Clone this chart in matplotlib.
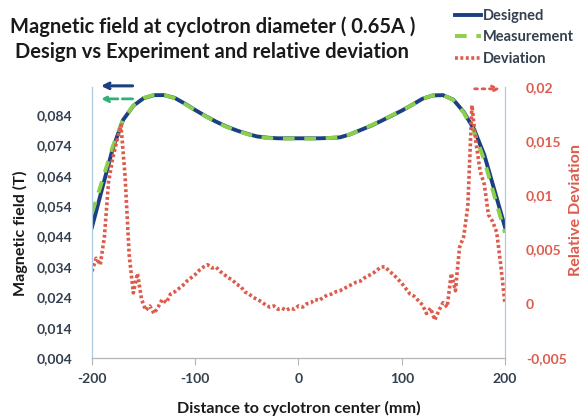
import numpy as np
import matplotlib
matplotlib.use("Agg")
import matplotlib.pyplot as plt

plt.rcParams['font.family'] = ['Lato', 'DejaVu Sans']

# field curves, sampled every 10 mm
pos_field = np.arange(-200, 201, 10)
designed = [0.0471, 0.0600, 0.0728, 0.0823, 0.0870, 0.0895, 0.0905, 0.0905, 0.0896, 0.0877,
            0.0856, 0.0836, 0.0818, 0.0802, 0.0789, 0.0778, 0.0769, 0.0765, 0.0763, 0.0763,
            0.0763, 0.0763, 0.0763, 0.0764, 0.0766, 0.0776, 0.0790, 0.0804, 0.0820, 0.0837,
            0.0854, 0.0873, 0.0893, 0.0904, 0.0905, 0.0890, 0.0850, 0.0793, 0.0708, 0.0590,
            0.0471]
measured = [0.0517, 0.0625, 0.0735, 0.0824, 0.0871, 0.0896, 0.0906, 0.0905, 0.0895, 0.0876,
            0.0855, 0.0835, 0.0817, 0.0801, 0.0788, 0.0777, 0.0768, 0.0764, 0.0762, 0.0762,
            0.0763, 0.0762, 0.0762, 0.0764, 0.0766, 0.0776, 0.0790, 0.0805, 0.0821, 0.0838,
            0.0855, 0.0873, 0.0893, 0.0904, 0.0905, 0.0889, 0.0848, 0.0785, 0.0690, 0.0570,
            0.0452]

# relative deviation, sampled every 4 mm
pos_dev = np.arange(-200, 201, 4)
deviation = [0.0030, 0.0042, 0.0036, 0.0062, 0.0112, 0.0134, 0.0150, 0.0165, 0.0118, 0.0045,
             0.0010, 0.0028, 0.0004, -0.0006, -0.0002, -0.0009, -0.0003, 0.0004, 0.0001, 0.0009,
             0.0011, 0.0014, 0.0017, 0.0021, 0.0024, 0.0027, 0.0031, 0.0034, 0.0036, 0.0033,
             0.0034, 0.0030, 0.0027, 0.0024, 0.0022, 0.0018, 0.0016, 0.0011, 0.0009, 0.0006,
             0.0004, 0.0002, -0.0001, -0.0003, -0.0002, -0.0005, -0.0004, -0.0006, -0.0004, -0.0005,
             -0.0002, -0.0003, 0.0000, 0.0001, 0.0004, 0.0003, 0.0006, 0.0008, 0.0009, 0.0011,
             0.0012, 0.0014, 0.0016, 0.0018, 0.0020, 0.0021, 0.0024, 0.0026, 0.0028, 0.0031,
             0.0034, 0.0034, 0.0030, 0.0027, 0.0023, 0.0019, 0.0014, 0.0009, 0.0007, 0.0003,
             -0.0001, -0.0009, -0.0004, -0.0015, -0.0006, 0.0001, -0.0003, 0.0028, 0.0012, 0.0052,
             0.0062, 0.0090, 0.0183, 0.0148, 0.0122, 0.0110, 0.0082, 0.0076, 0.0066, 0.0035,
             0.0000]

left_ticks = [0.004, 0.014, 0.024, 0.034, 0.044, 0.054, 0.064, 0.074, 0.084]
right_ticks = [-0.005, 0, 0.005, 0.01, 0.015, 0.02]
x_ticks = [-200, -100, 0, 100, 200]

blue = '#1c3f82'
green = '#8ccf4a'
red = '#de5b4c'
txt = '#34404e'

fig = plt.figure(figsize=(5.88, 4.17), dpi=100)
ax = fig.add_axes([0.1565, 0.1415, 0.7023, 0.65])
ax2 = ax.twinx()

l1, = ax.plot(pos_field, designed, color=blue, lw=2.8, label='Designed')
l2, = ax.plot(pos_field, measured, color=green, lw=2.8, ls=(0, (3, 2.5)), label='Measurement')
l3, = ax2.plot(pos_dev, deviation, color=red, lw=2.6, ls=(0, (0.8, 0.7)), label='Deviation')

ax.set_xlim(-200, 200)
ax.set_ylim(0.004, 0.0932)
ax2.set_ylim(-0.005, 0.02)
ax.set_xticks(x_ticks)
ax.set_xticklabels([str(v) for v in x_ticks])
ax.set_yticks(left_ticks)
ax.set_yticklabels([('%.3f' % v).replace('.', ',') for v in left_ticks])
ax2.set_yticks(right_ticks)
ax2.set_yticklabels(['-0,005', '0', '0,005', '0,01', '0,015', '0,02'])

for a in (ax, ax2):
    a.spines['top'].set_visible(False)
    a.spines['left'].set_color('#a9c9e2')
    a.spines['right'].set_color('#a9c9e2')
    a.spines['bottom'].set_color('#b4b4b4')
ax.tick_params(axis='x', length=5, color='#b4b4b4', labelsize=10, labelcolor=txt, pad=6)
ax.tick_params(axis='y', length=0, labelsize=10, labelcolor=txt, pad=14)
ax2.tick_params(axis='y', length=0, labelsize=10, labelcolor=red, pad=15)
for lab in ax.get_xticklabels() + ax.get_yticklabels() + ax2.get_yticklabels():
    lab.set_fontweight('bold')

ax.set_xlabel('Distance to cyclotron center (mm)', fontsize=11.6, fontweight='bold', color='#1a1a1a')
ax.set_ylabel('Magnetic field (T)', fontsize=11.6, fontweight='bold', color='#1a1a1a')
ax2.set_ylabel('Relative Deviation', fontsize=11.6, fontweight='bold', color=red)
ax.xaxis.set_label_coords(0.5, -0.157)
ax.yaxis.set_label_coords(-0.155, 0.461)
ax2.yaxis.set_label_coords(1.155, 0.546)

fig.text(0.361, 0.935, 'Magnetic field at cyclotron diameter ( 0.65A )', ha='center', va='center',
         fontsize=14.5, fontweight='bold', color='#1a1a1a')
fig.text(0.361, 0.875, 'Design vs Experiment and relative deviation', ha='center', va='center',
         fontsize=14.5, fontweight='bold', color='#1a1a1a')

# axis pointer arrows
ax.annotate('', xy=(0.015, 1.004), xytext=(0.105, 1.004), xycoords='axes fraction',
            arrowprops=dict(arrowstyle='->', color=blue, lw=2.2), annotation_clip=False)
ax.annotate('', xy=(0.015, 0.956), xytext=(0.105, 0.956), xycoords='axes fraction',
            arrowprops=dict(arrowstyle='->', color='#2db37a', lw=2.0, ls='--'), annotation_clip=False)
ax.annotate('', xy=(0.995, 0.993), xytext=(0.92, 0.993), xycoords='axes fraction',
            arrowprops=dict(arrowstyle='->', color=red, lw=2.0, ls=':'), annotation_clip=False)

leg = fig.legend(handles=[l1, l2, l3], loc='upper left', bbox_to_anchor=(0.773, 0.978),
                 frameon=False, handlelength=1.8, handletextpad=0.15,
                 labelspacing=0.5, borderpad=0, borderaxespad=0,
                 prop={'weight': 'bold', 'size': 10.5})
for t in leg.get_texts():
    t.set_color(txt)

fig.savefig('out.png', dpi=100)
